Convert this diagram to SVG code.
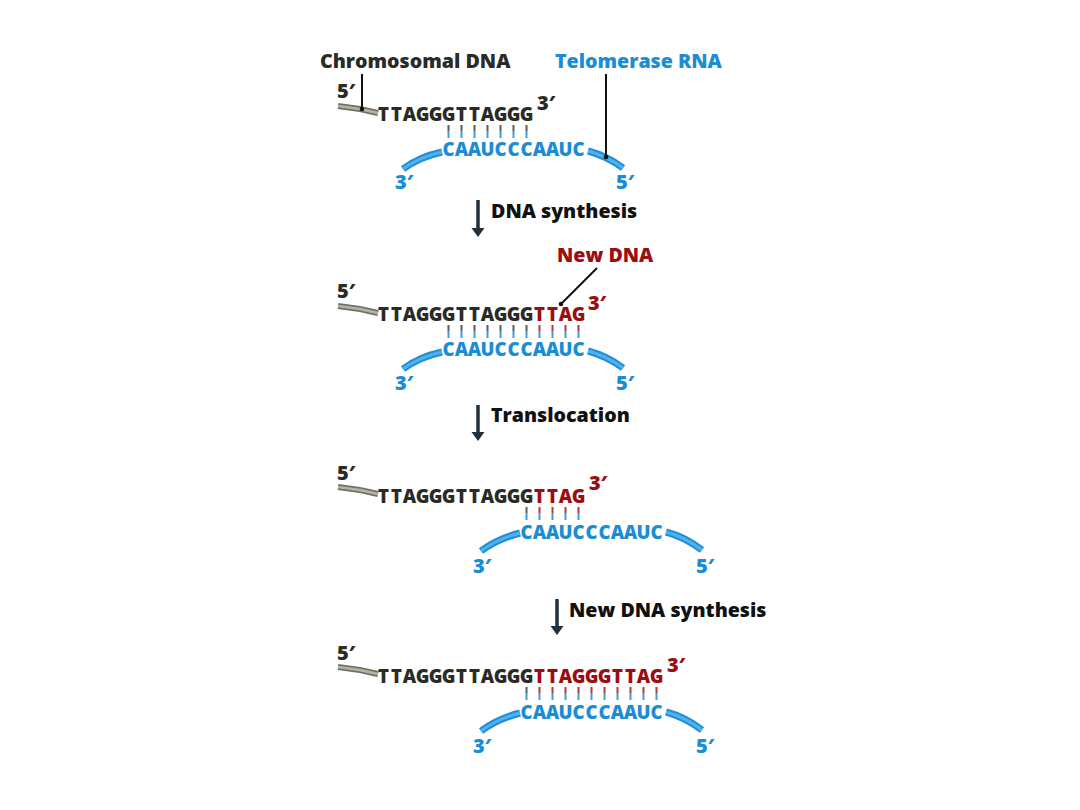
<svg xmlns="http://www.w3.org/2000/svg" width="1080" height="810" viewBox="0 0 1080 810">
<defs>
<style>
text{font-family:"Open Sans","Liberation Sans",sans-serif;font-weight:800;}
.lbl{font-size:19.6px;}
.seq{font-size:18.5px;text-anchor:middle;}
.dk{fill:#2b2b26;}
.bl{fill:#1a8dd5;}
.rd{fill:#9c0d10;}
.blk{fill:#111;}
.prime{font-size:20px;}
.strandO{fill:none;stroke:#707064;stroke-width:6;stroke-linecap:butt;}
.strandI{fill:none;stroke:#b4b4a6;stroke-width:2.5;stroke-linecap:butt;}
.arcO{fill:none;stroke:#1f8fd8;stroke-width:7;stroke-linecap:butt;}
.arcI{fill:none;stroke:#52b0ea;stroke-width:3;stroke-linecap:butt;}
.tkD{fill:none;stroke:#5c5c58;stroke-width:2;}
.tkR{fill:none;stroke:#b23a3a;stroke-width:2;}
.tkB{fill:none;stroke:#3aa0e0;stroke-width:2;}
.lead{fill:none;stroke:#111;stroke-width:2;}
.step{fill:none;stroke:#22303e;stroke-width:3.5;}
.head{fill:#22303e;}
</style>
</defs>
<rect width="1080" height="810" fill="#fff"/>

<g id="label-chromosomal-dna"><text class="lbl dk" x="320" y="68">Chromosomal DNA</text></g>
<g id="label-telomerase-rna"><text class="lbl bl" x="555" y="68">Telomerase RNA</text></g>
<g id="label-new-dna"><text class="lbl rd" x="557" y="262">New DNA</text></g>
<g id="label-dna-synthesis"><text class="lbl blk" x="491" y="218">DNA synthesis</text></g>
<g id="label-translocation"><text class="lbl blk" x="491" y="422">Translocation</text></g>
<g id="label-new-dna-synthesis"><text class="lbl blk" x="569" y="617">New DNA synthesis</text></g>

<g id="panel-1">
<path class="strandO" d="M338,106 Q358,108 378,113"/>
<path class="strandI" d="M338,106 Q358,108 378,113"/>
<text class="prime dk" x="337" y="98">5′</text>
<text class="seq dk" x="383.5 396.5 409.5 422.5 435.5 448.5 461.5 474.5 487.5 500.5 513.5 526.5" y="121">TTAGGGTTAGGG</text>
<text class="prime dk" x="537" y="110">3′</text>
<path class="tkD" d="M448.5,125V131M461.5,125V131M474.5,125V131M487.5,125V131M500.5,125V131M513.5,125V131M526.5,125V131"/>
<path class="tkB" d="M448.5,131V138M461.5,131V138M474.5,131V138M487.5,131V138M500.5,131V138M513.5,131V138M526.5,131V138"/>
<text class="seq bl" x="448.5 461.5 474.5 487.5 500.5 513.5 526.5 539.5 552.5 565.5 578.5" y="156">CAAUCCCAAUC</text>
<path class="arcO" d="M403,169 Q419,157 442,152"/>
<path class="arcI" d="M403,169 Q419,157 442,152"/>
<path class="arcO" d="M588,151 Q607,156 623,168"/>
<path class="arcI" d="M588,151 Q607,156 623,168"/>
<text class="prime bl" x="395" y="189">3′</text>
<text class="prime bl" x="616" y="189">5′</text>
</g>

<g id="panel-2">
<path class="strandO" d="M338,306 Q358,308 378,313"/>
<path class="strandI" d="M338,306 Q358,308 378,313"/>
<text class="prime dk" x="337" y="298">5′</text>
<text class="seq dk" y="321"><tspan x="383.5 396.5 409.5 422.5 435.5 448.5 461.5 474.5 487.5 500.5 513.5 526.5">TTAGGGTTAGGG</tspan><tspan class="rd" x="539.5 552.5 565.5 578.5">TTAG</tspan></text>
<text class="prime rd" x="588" y="310">3′</text>
<path class="tkD" d="M448.5,325V331M461.5,325V331M474.5,325V331M487.5,325V331M500.5,325V331M513.5,325V331M526.5,325V331"/>
<path class="tkR" d="M539.5,325V331M552.5,325V331M565.5,325V331M578.5,325V331"/>
<path class="tkB" d="M448.5,331V338M461.5,331V338M474.5,331V338M487.5,331V338M500.5,331V338M513.5,331V338M526.5,331V338M539.5,331V338M552.5,331V338M565.5,331V338M578.5,331V338"/>
<text class="seq bl" x="448.5 461.5 474.5 487.5 500.5 513.5 526.5 539.5 552.5 565.5 578.5" y="356">CAAUCCCAAUC</text>
<path class="arcO" d="M403,369 Q419,357 442,352"/>
<path class="arcI" d="M403,369 Q419,357 442,352"/>
<path class="arcO" d="M588,351 Q607,356 623,368"/>
<path class="arcI" d="M588,351 Q607,356 623,368"/>
<text class="prime bl" x="395" y="390">3′</text>
<text class="prime bl" x="616" y="390">5′</text>
</g>

<g id="panel-3">
<path class="strandO" d="M338,487 Q358,489 378,494"/>
<path class="strandI" d="M338,487 Q358,489 378,494"/>
<text class="prime dk" x="337" y="480">5′</text>
<text class="seq dk" y="503"><tspan x="383.5 396.5 409.5 422.5 435.5 448.5 461.5 474.5 487.5 500.5 513.5 526.5">TTAGGGTTAGGG</tspan><tspan class="rd" x="539.5 552.5 565.5 578.5">TTAG</tspan></text>
<text class="prime rd" x="589" y="490">3′</text>
<path class="tkD" d="M526.5,507V513"/>
<path class="tkR" d="M539.5,507V513M552.5,507V513M565.5,507V513M578.5,507V513"/>
<path class="tkB" d="M526.5,513V520M539.5,513V520M552.5,513V520M565.5,513V520M578.5,513V520"/>
<text class="seq bl" x="526.5 539.5 552.5 565.5 578.5 591.5 604.5 617.5 630.5 643.5 656.5" y="539">CAAUCCCAAUC</text>
<path class="arcO" d="M481,551 Q497,539 520,533"/>
<path class="arcI" d="M481,551 Q497,539 520,533"/>
<path class="arcO" d="M666,532 Q685,537 702,550"/>
<path class="arcI" d="M666,532 Q685,537 702,550"/>
<text class="prime bl" x="473" y="573">3′</text>
<text class="prime bl" x="696" y="573">5′</text>
</g>

<g id="panel-4">
<path class="strandO" d="M338,667 Q358,669 378,674"/>
<path class="strandI" d="M338,667 Q358,669 378,674"/>
<text class="prime dk" x="337" y="660">5′</text>
<text class="seq dk" y="683"><tspan x="383.5 396.5 409.5 422.5 435.5 448.5 461.5 474.5 487.5 500.5 513.5 526.5">TTAGGGTTAGGG</tspan><tspan class="rd" x="539.5 552.5 565.5 578.5 591.5 604.5 617.5 630.5 643.5 656.5">TTAGGGTTAG</tspan></text>
<text class="prime rd" x="667" y="672">3′</text>
<path class="tkD" d="M526.5,687V693"/>
<path class="tkR" d="M539.5,687V693M552.5,687V693M565.5,687V693M578.5,687V693M591.5,687V693M604.5,687V693M617.5,687V693M630.5,687V693M643.5,687V693M656.5,687V693"/>
<path class="tkB" d="M526.5,693V700M539.5,693V700M552.5,693V700M565.5,693V700M578.5,693V700M591.5,693V700M604.5,693V700M617.5,693V700M630.5,693V700M643.5,693V700M656.5,693V700"/>
<text class="seq bl" x="526.5 539.5 552.5 565.5 578.5 591.5 604.5 617.5 630.5 643.5 656.5" y="719">CAAUCCCAAUC</text>
<path class="arcO" d="M481,731 Q497,719 520,713"/>
<path class="arcI" d="M481,731 Q497,719 520,713"/>
<path class="arcO" d="M666,712 Q685,717 702,730"/>
<path class="arcI" d="M666,712 Q685,717 702,730"/>
<text class="prime bl" x="473" y="753">3′</text>
<text class="prime bl" x="696" y="753">5′</text>
</g>

<g id="connectors">
<path class="lead" d="M362,74V109"/><circle cx="362" cy="109" r="2.3" fill="#111"/>
<path class="lead" d="M606,74V157"/><circle cx="606" cy="157" r="2.3" fill="#111"/>
<path class="lead" d="M597,268L561,304"/><circle cx="561" cy="304" r="2.3" fill="#111"/>
<path class="step" d="M478,200V229"/><polygon class="head" points="471.5,228 484.5,228 478,237"/>
<path class="step" d="M478,405V433"/><polygon class="head" points="471.5,432 484.5,432 478,441"/>
<path class="step" d="M557,599V627"/><polygon class="head" points="550.5,626 563.5,626 557,635"/>
</g>
</svg>
